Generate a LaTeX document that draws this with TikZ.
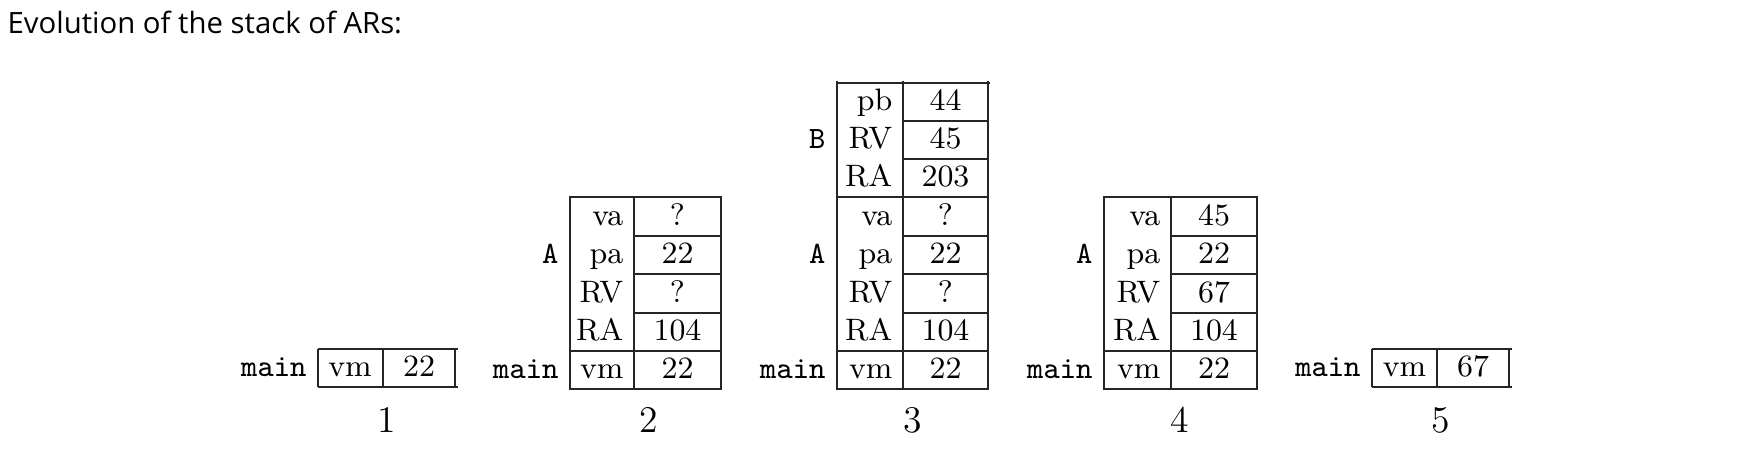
\documentclass[tikz,border=0pt]{standalone}
\usepackage{fontspec}
\newfontfamily\titlefont{Open Sans}
\usetikzlibrary{positioning}
\tikzset{
	box/.style={line width=0.6pt, draw=black!85},
	lbl/.style={anchor=base east, inner sep=0pt, font=\fontsize{9.3}{11}\selectfont},
	val/.style={anchor=base, inner sep=0pt, font=\fontsize{9.3}{11}\selectfont},
	fr/.style={anchor=base east, inner sep=0pt, font=\fontsize{9.3}{11}\selectfont\ttfamily},
	num/.style={anchor=base, inner sep=0pt, font=\fontsize{11.3}{13}\selectfont},
	ttl/.style={anchor=base west, inner sep=0pt, font=\titlefont\fontsize{8.8}{10}\selectfont}
}

\begin{document}
\begin{tikzpicture}[x=0.3pt, y=-0.3pt]
	\useasboundingbox (0,0) rectangle (1762,448);
	\node[ttl] (title) at (7,33) {Evolution of the stack of ARs:};

	% stack 1
	\draw[box] (318,349) -- (458,349) (318,387) -- (458,387);
	\draw[box] (318,349) -- (318,387) (383,349) -- (383,387) (455,349) -- (455,387);
	\node[fr] (main1) at (307,376) {main};
	\node[val] (vm1) at (350,376) {vm};
	\node[val] (v1) at (419,376) {22};
	\node[num] (n1) at (386.5,432) {1};

	% stack 2
	\draw[box] (570,197) rectangle (721,389);
	\draw[box] (634,197) -- (634,389);
	\draw[box] (570,351) -- (721,351);
	\draw[box] (634,236) -- (721,236);
	\draw[box] (634,274) -- (721,274);
	\draw[box] (634,313) -- (721,313);
	\node[fr] (main2) at (559,378) {main};
	\node[fr] (fa2) at (559,263) {A};
	\node[lbl] (va2) at (624,225) {va};
	\node[lbl] (pa2) at (624,263) {pa};
	\node[lbl] (rv2) at (624,302) {RV};
	\node[lbl] (ra2) at (624,340) {RA};
	\node[lbl] (vm2) at (624,378) {vm};
	\node[val] (xva2) at (677.5,225) {?};
	\node[val] (xpa2) at (677.5,263) {22};
	\node[val] (xrv2) at (677.5,302) {?};
	\node[val] (xra2) at (677.5,340) {104};
	\node[val] (xvm2) at (677.5,378) {22};
	\node[num] (n2) at (649,432) {2};

	% stack 3
	\draw[box] (837,83) -- (990,83);
	\draw[box] (837,81) -- (837,389) -- (988,389) -- (988,81);
	\draw[box] (903,81) -- (903,389);
	\draw[box] (837,351) -- (988,351);
	\draw[box] (837,197) -- (988,197);
	\draw[box] (903,121) -- (988,121);
	\draw[box] (903,159) -- (988,159);
	\draw[box] (903,236) -- (988,236);
	\draw[box] (903,274) -- (988,274);
	\draw[box] (903,313) -- (988,313);
	\node[fr] (main3) at (826,378) {main};
	\node[fr] (fa3) at (826,263) {A};
	\node[fr] (fb3) at (826,148) {B};
	\node[lbl] (pb3) at (893,110) {pb};
	\node[lbl] (rvb3) at (893,148) {RV};
	\node[lbl] (rab3) at (893,186) {RA};
	\node[lbl] (va3) at (893,225) {va};
	\node[lbl] (pa3) at (893,263) {pa};
	\node[lbl] (rv3) at (893,302) {RV};
	\node[lbl] (ra3) at (893,340) {RA};
	\node[lbl] (vm3) at (893,378) {vm};
	\node[val] (xpb3) at (945.5,110) {44};
	\node[val] (xrvb3) at (945.5,148) {45};
	\node[val] (xrab3) at (945.5,186) {203};
	\node[val] (xva3) at (945.5,225) {?};
	\node[val] (xpa3) at (945.5,263) {22};
	\node[val] (xrv3) at (945.5,302) {?};
	\node[val] (xra3) at (945.5,340) {104};
	\node[val] (xvm3) at (945.5,378) {22};
	\node[num] (n3) at (913,432) {3};

	% stack 4
	\draw[box] (1104,197) rectangle (1257,389);
	\draw[box] (1171,197) -- (1171,389);
	\draw[box] (1104,351) -- (1257,351);
	\draw[box] (1171,236) -- (1257,236);
	\draw[box] (1171,274) -- (1257,274);
	\draw[box] (1171,313) -- (1257,313);
	\node[fr] (main4) at (1093,378) {main};
	\node[fr] (fa4) at (1093,263) {A};
	\node[lbl] (va4) at (1161,225) {va};
	\node[lbl] (pa4) at (1161,263) {pa};
	\node[lbl] (rv4) at (1161,302) {RV};
	\node[lbl] (ra4) at (1161,340) {RA};
	\node[lbl] (vm4) at (1161,378) {vm};
	\node[val] (xva4) at (1214,225) {45};
	\node[val] (xpa4) at (1214,263) {22};
	\node[val] (xrv4) at (1214,302) {67};
	\node[val] (xra4) at (1214,340) {104};
	\node[val] (xvm4) at (1214,378) {22};
	\node[num] (n4) at (1180,432) {4};

	% stack 5
	\draw[box] (1372,349) -- (1512,349) (1372,387) -- (1512,387);
	\draw[box] (1372,349) -- (1372,387) (1437,349) -- (1437,387) (1509,349) -- (1509,387);
	\node[fr] (main5) at (1361,376) {main};
	\node[val] (vm5) at (1404.5,376) {vm};
	\node[val] (v5) at (1473,376) {67};
	\node[num] (n5) at (1441,432) {5};
\end{tikzpicture}
\end{document}
